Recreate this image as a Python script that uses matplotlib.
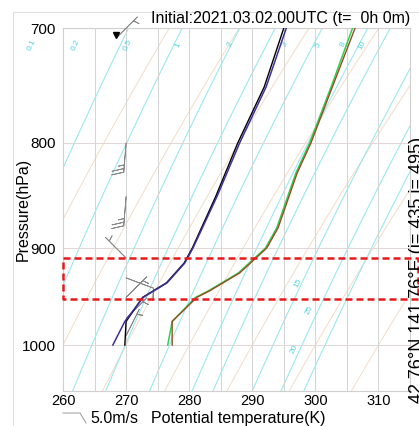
"""
Potential temperature - pressure profile (emagram style) with a marked layer.
"""
import matplotlib.pyplot as plt
import numpy as np
from matplotlib.lines import Line2D
from matplotlib.patches import Rectangle

KAPPA = 0.286

# theta profiles (K)
theta_pres = [1000, 975, 950, 935, 915, 900, 850, 800, 750, 700]
theta_purple = [267.9, 269.8, 272.7, 276.5, 279.3, 280.6, 284.4, 288.0, 292.2, 295.4]
theta_black = [269.8, 270.0, 272.6, 276.4, 279.2, 280.5, 284.2, 287.7, 291.9, 295.0]

# theta-e profiles (K)
thetae_pres = [1000, 975, 950, 943, 925, 900, 880, 828, 800, 750, 700]
thetae_green = [276.6, 277.3, 281.0, 283.1, 287.8, 292.1, 293.9, 296.9, 299.1, 302.5, 305.9]
thetae_brown = [277.3, 277.3, 281.2, 283.3, 288.0, 292.3, 294.1, 297.1, 299.3, 302.7, 306.3]

# wind barbs
wind_pres = [708, 800, 850, 910, 930, 950, 972, 990]
wind_x = [268.5, 270, 270, 270, 270, 270, 270, 270]
wind_u = [-5, 2, 2, 5, -8, -3, -3, -2]
wind_v = [-5, 25, 25, -5, 3, -3, -3, -4]

# saturation mixing ratio lines (g/kg) and where their labels sit
mr_values = [0.1, 0.2, 0.5, 1, 2, 3, 5, 8, 10, 15, 20, 25]
mr_labels = ["0.1", "0.2", "0.5", "1", "2", "3", "5", "8", "10", "15", "20", "25"]
mr_label_theta = [255, 262, 270.3, 278.2, 286.5, 295.2, 300.4, 304.4, 307.4, 297.3, 296.6, 299.0]
mr_label_p = [714, 714, 714, 714, 714, 714, 714, 714, 714, 935, 1004, 963]

# isotherms (K)
isotherms = [250, 260, 270, 280, 290, 300, 310, 320]

# marked layer (hPa)
layer_top, layer_bottom = 910, 952


def fwd(p):
    return np.power(np.abs(p), KAPPA)


def inv(y):
    return np.power(np.abs(y), 1.0 / KAPPA)


def main():
    plt.rcParams["font.family"] = ["Liberation Sans", "DejaVu Sans"]
    W, H = 419, 426
    fig = plt.figure(figsize=(W / 100, H / 100), dpi=100)
    ax = fig.add_axes([63 / W, 1 - 391 / H, 347 / W, 363 / H])
    ax.set_yscale("function", functions=(fwd, inv))

    p = np.linspace(690, 1060, 200)

    # isotherms
    for T in isotherms:
        ax.plot(T * (1000 / p) ** KAPPA, p, color="#f4dcc6", lw=0.7, zorder=1)

    # mixing ratio lines
    for w in mr_values:
        e = w * p / (622 + w)
        lg = np.log(e / 6.112)
        tc = 243.5 * lg / (17.67 - lg)
        th = (tc + 273.15) * (1000 / p) ** KAPPA
        ax.plot(th, p, color="#9ce8ee", lw=0.8, zorder=1)
    for lab, xt, pt in zip(mr_labels, mr_label_theta, mr_label_p):
        ax.text(xt, pt, lab, color="#4fd3df", fontsize=6, rotation=65,
                ha="center", va="center", clip_on=False, zorder=2)

    # profiles
    ax.plot(theta_black, theta_pres, color="black", lw=1.0, zorder=4)
    ax.plot(theta_purple, theta_pres, color="#3d2f9c", lw=1.1, zorder=5)
    ax.plot(thetae_green, thetae_pres, color="#2fcf50", lw=1.1, zorder=4)
    ax.plot(thetae_brown, thetae_pres, color="#9b4a24", lw=1.0, zorder=5)

    # winds
    ax.barbs(wind_x, wind_pres, wind_u, wind_v, length=6.5, color="#8a8a8a",
             linewidth=0.6, zorder=3, clip_on=False)
    ax.plot([268.4], [706], marker="v", color="black", markersize=4, zorder=6)

    ax.set_xlim(260, 315)
    ax.set_ylim(1050, 700)
    ax.set_xticks([260, 270, 280, 290, 300, 310])
    ax.set_xticks(np.arange(265, 315, 10), minor=True)
    ax.set_yticks([700, 800, 900, 1000])
    ax.set_yticks([], minor=True)
    ax.tick_params(axis="y", length=0, labelsize=11, pad=5)
    ax.tick_params(axis="x", length=0, labelsize=10.5, pad=2.5)
    ax.tick_params(which="minor", length=0)
    ax.grid(True, which="both", axis="x", color="#d4d4d4", lw=0.7)
    ax.grid(True, axis="y", color="#e2d6d6", lw=0.7)
    for s in ax.spines.values():
        s.set_color("#cfcfcf")
        s.set_linewidth(0.8)
    ax.set_ylabel("Pressure(hPa)", fontsize=11.5, va="center")
    ax.yaxis.set_label_coords(-0.115, 0.5)

    # red dashed box over the layer (runs a little past the right spine)
    ax.plot([0, 355 / 347, 355 / 347, 0, 0],
            [layer_top, layer_top, layer_bottom, layer_bottom, layer_top],
            transform=ax.get_yaxis_transform(), color="#e8191b", lw=1.8,
            linestyle=(0, (2.8, 1.6)), clip_on=False, zorder=8)

    # figure furniture
    fig.patches.append(Rectangle((13 / W, -0.01), 1, 1 - 12 / H + 0.01,
                                 transform=fig.transFigure, fill=False,
                                 edgecolor="#dedede", lw=0.8))
    fig.text(410 / W, 1 - 18 / H, "Initial:2021.03.02.00UTC (t=  0h 0m)",
             ha="right", va="center", fontsize=11.5)
    fig.text(409 / W, 1 - 137 / H, "42.76°N 141.76°E (i= 435 j= 495)",
             rotation=90, ha="left", va="top", fontsize=13)
    fig.lines.append(Line2D([63 / W, 80 / W, 86 / W],
                            [1 - 413 / H, 1 - 413 / H, 1 - 423 / H],
                            transform=fig.transFigure, color="#9a9a9a", lw=0.7))
    fig.text(90 / W, 1 - 418.5 / H, "5.0m/s", ha="left", va="center", fontsize=11.5)
    fig.text(151 / W, 1 - 418.5 / H, "Potential temperature(K)", ha="left",
             va="center", fontsize=11.5)

    fig.savefig("out.png", dpi=100)
    plt.close(fig)


if __name__ == "__main__":
    main()
